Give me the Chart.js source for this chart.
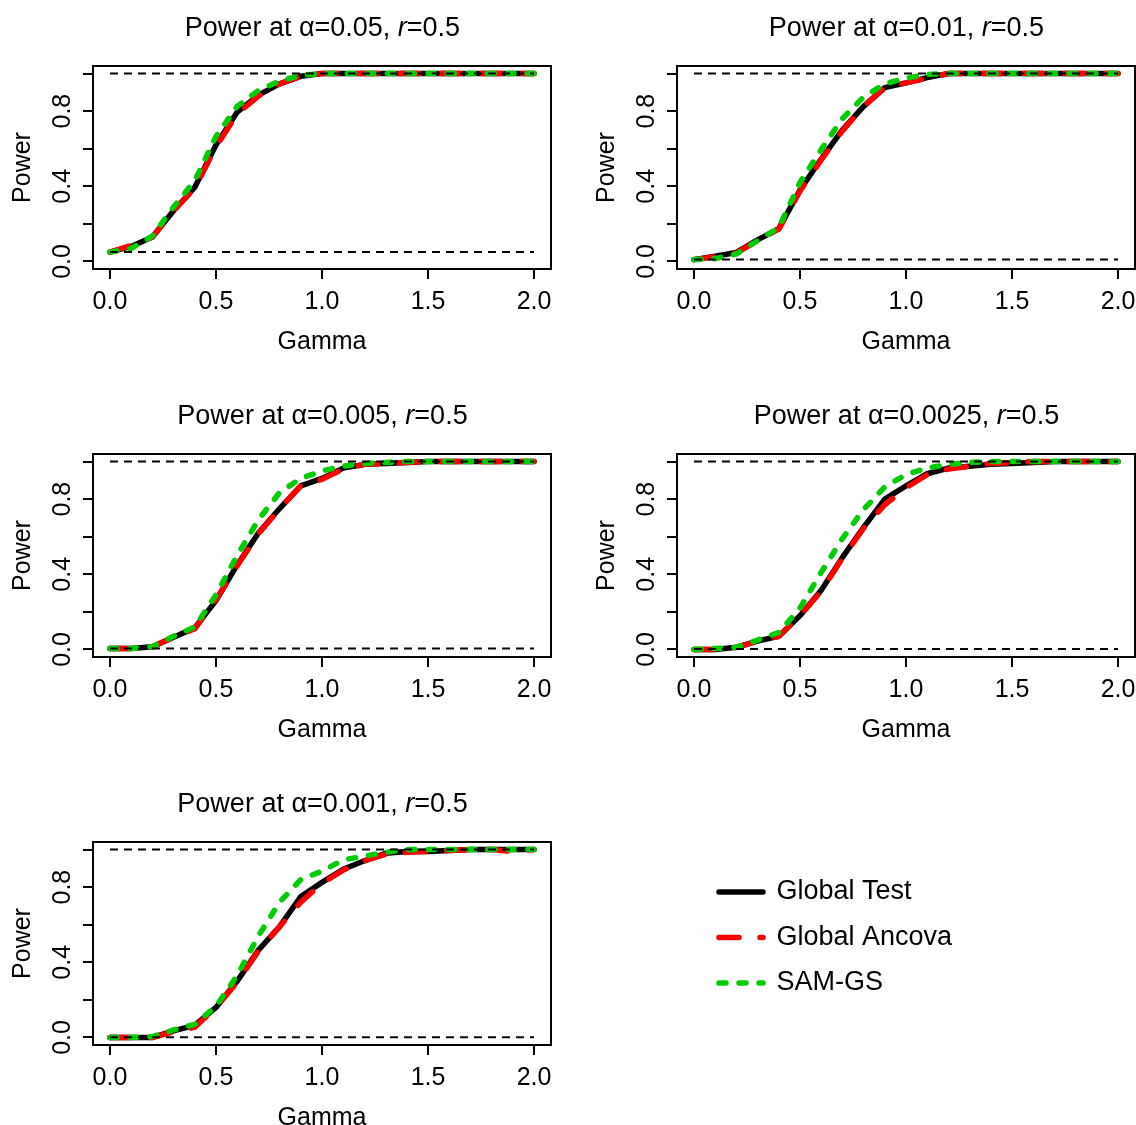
<!DOCTYPE html>
<html>
<head>
<meta charset="utf-8">
<script src="https://cdn.jsdelivr.net/npm/chart.js@4.4.1/dist/chart.umd.min.js"></script>
<style>
    html, body { margin: 0; padding: 0; background: #fff; overflow: hidden; }
    body { width: 1136px; height: 1125px; position: relative; }
    .panel { position: absolute; width: 552px; height: 388px; }
    .panel canvas { position: absolute; left: 0; top: 0; }
    .ttl { position: absolute; left: 93px; width: 459px; top: 12px; text-align: center;
           font: 27px "Liberation Sans", Arial, Helvetica, sans-serif; line-height: 30px;
           color: #000; white-space: nowrap; }
</style>
</head>
<body>
<script>
var gamma = [0, 0.1, 0.2, 0.3, 0.4, 0.5, 0.6, 0.7, 0.8, 0.9, 1.0, 1.1, 1.2, 1.3, 1.4, 1.5, 1.6, 1.7, 1.8, 1.9, 2.0];

var gt05  = [0.05, 0.08, 0.13, 0.27, 0.395, 0.62, 0.795, 0.885, 0.945, 0.985, 1, 1, 1, 1, 1, 1, 1, 1, 1, 1, 1];
var ga05  = [0.05, 0.085, 0.13, 0.27, 0.39, 0.61, 0.785, 0.88, 0.945, 0.985, 1, 1, 1, 1, 1, 1, 1, 1, 1, 1, 1];
var sam05 = [0.05, 0.07, 0.135, 0.29, 0.43, 0.665, 0.825, 0.91, 0.96, 0.99, 1, 1, 1, 1, 1, 1, 1, 1, 1, 1, 1];

var gt01  = [0.01, 0.028, 0.048, 0.115, 0.175, 0.38, 0.545, 0.70, 0.825, 0.925, 0.95, 0.978, 1, 1, 1, 1, 1, 1, 1, 1, 1];
var ga01  = [0.01, 0.025, 0.045, 0.112, 0.172, 0.375, 0.54, 0.695, 0.825, 0.925, 0.95, 0.975, 1, 1, 1, 1, 1, 1, 1, 1, 1];
var sam01 = [0.01, 0.015, 0.04, 0.11, 0.18, 0.42, 0.595, 0.76, 0.875, 0.945, 0.975, 0.995, 1, 1, 1, 1, 1, 1, 1, 1, 1];

var gt005  = [0.005, 0.005, 0.015, 0.065, 0.115, 0.26, 0.45, 0.62, 0.75, 0.87, 0.91, 0.965, 0.985, 0.99, 0.995, 1, 1, 1, 1, 1, 1];
var ga005  = [0.005, 0.005, 0.015, 0.065, 0.11, 0.265, 0.445, 0.615, 0.75, 0.87, 0.905, 0.96, 0.985, 0.99, 0.995, 1, 1, 1, 1, 1, 1];
var sam005 = [0.005, 0.005, 0.015, 0.07, 0.12, 0.29, 0.5, 0.69, 0.835, 0.91, 0.95, 0.975, 0.99, 0.995, 1, 1, 1, 1, 1, 1, 1];

var gt0025  = [0, 0, 0.012, 0.045, 0.07, 0.18, 0.315, 0.49, 0.65, 0.8, 0.87, 0.935, 0.965, 0.975, 0.985, 0.99, 0.995, 1, 1, 1, 1];
var ga0025  = [0, 0, 0.01, 0.045, 0.07, 0.18, 0.31, 0.485, 0.645, 0.77, 0.86, 0.93, 0.96, 0.975, 0.99, 0.995, 1, 1, 1, 1, 1];
var sam0025 = [0, 0.005, 0.012, 0.05, 0.09, 0.22, 0.41, 0.59, 0.745, 0.865, 0.93, 0.965, 0.985, 0.995, 1, 1, 1, 1, 1, 1, 1];

var gt001  = [0, 0, 0, 0.035, 0.065, 0.16, 0.3, 0.465, 0.59, 0.75, 0.825, 0.895, 0.94, 0.98, 0.99, 0.99, 0.995, 1, 1, 1, 1];
var ga001  = [0, 0, 0, 0.03, 0.055, 0.16, 0.295, 0.46, 0.59, 0.72, 0.82, 0.89, 0.94, 0.975, 0.985, 0.99, 0.995, 1, 1, 0.99, 1];
var sam001 = [0, 0, 0.005, 0.04, 0.07, 0.165, 0.33, 0.54, 0.72, 0.84, 0.885, 0.945, 0.965, 0.985, 1, 1, 1, 1, 1, 1, 1];

var alphas      = [0.05, 0.01, 0.005, 0.0025, 0.001];
var alphaLabels = ['0.05', '0.01', '0.005', '0.0025', '0.001'];

var xTicks      = [0, 0.5, 1, 1.5, 2];
var xTickLabels = ['0.0', '0.5', '1.0', '1.5', '2.0'];
var yTicks      = [0, 0.2, 0.4, 0.6, 0.8, 1];
var yTickLabels = ['0.0', '', '0.4', '', '0.8', ''];

var seriesNames  = ['Global Test', 'Global Ancova', 'SAM-GS'];
var seriesColors = ['#000000', '#ff0000', '#00cd00'];
var seriesDash   = [[], [20, 21], [7, 13]];

var panelData = [
    [gt05, ga05, sam05],
    [gt01, ga01, sam01],
    [gt005, ga005, sam005],
    [gt0025, ga0025, sam0025],
    [gt001, ga001, sam001]
];

var FONT = '"Liberation Sans", Arial, Helvetica, sans-serif';
var axisFont = { family: FONT, size: 25 };
var W = 552, H = 388;

function points(ys) {
    return gamma.map(function(g, i) { return { x: g, y: ys[i] }; });
}

function refLine(level) {
    return {
        data: [{ x: gamma[0], y: level }, { x: gamma[gamma.length - 1], y: level }],
        borderColor: '#000', borderWidth: 2, borderDash: [8, 6], pointRadius: 0
    };
}

function series(k, ys) {
    return {
        label: seriesNames[k], data: points(ys),
        borderColor: seriesColors[k], borderWidth: 5.5, borderDash: seriesDash[k],
        borderCapStyle: 'round', borderJoinStyle: 'round', pointRadius: 0
    };
}

// box round the plot region, like R's box()
var frame = {
    id: 'frame',
    afterDatasetsDraw: function(chart) {
        var a = chart.chartArea, c = chart.ctx;
        c.save();
        c.strokeStyle = '#000';
        c.lineWidth = 2;
        c.strokeRect(a.left, a.top, a.right - a.left, a.bottom - a.top);
        c.restore();
    }
};

var tickGrid = { drawOnChartArea: false, drawTicks: true, tickLength: 10, color: '#000', lineWidth: 2 };

panelData.forEach(function(d, i) {
    var col = i % 2, row = Math.floor(i / 2);
    var box = document.createElement('div');
    box.className = 'panel';
    box.style.left = (col * 584) + 'px';
    box.style.top = (row * 388) + 'px';
    var cv = document.createElement('canvas');
    cv.width = W; cv.height = H;
    box.appendChild(cv);
    var t = document.createElement('div');
    t.className = 'ttl';
    t.innerHTML = 'Power at \u03b1=' + alphaLabels[i] + ', <i>r</i>=0.5';
    box.appendChild(t);
    document.body.appendChild(box);

    new Chart(cv, {
        type: 'line',
        data: {
            datasets: [
                refLine(alphas[i]), refLine(1),
                series(2, d[2]), series(1, d[1]), series(0, d[0])
            ]
        },
        options: {
            responsive: false,
            animation: false,
            layout: { padding: { top: 66, right: 1, left: 0, bottom: 0 } },
            plugins: { legend: { display: false }, tooltip: { enabled: false } },
            elements: { line: { tension: 0 } },
            scales: {
                x: {
                    type: 'linear', min: -0.08, max: 2.08,
                    afterBuildTicks: function(s) { s.ticks = xTicks.map(function(v) { return { value: v }; }); },
                    afterFit: function(s) { s.height = H - 269; s.paddingLeft = 0; s.paddingRight = 0; },
                    ticks: { autoSkip: false, maxRotation: 0, padding: 8.5, color: '#000', font: axisFont,
                             callback: function(v, idx) { return xTickLabels[idx]; } },
                    grid: tickGrid,
                    border: { display: false },
                    title: { display: true, text: 'Gamma', color: '#000', font: axisFont, padding: { top: 0, bottom: 30.5 } }
                },
                y: {
                    type: 'linear', min: -0.04, max: 1.04,
                    afterBuildTicks: function(s) { s.ticks = yTicks.map(function(v) { return { value: v }; }); },
                    afterFit: function(s) { s.width = 93; s.paddingTop = 0; s.paddingBottom = 0; },
                    ticks: { autoSkip: false, minRotation: 90, maxRotation: 90, crossAlign: 'center', padding: 2.6,
                             color: '#000', font: axisFont,
                             callback: function(v, idx) { return yTickLabels[idx]; } },
                    grid: tickGrid,
                    border: { display: false },
                    title: { display: true, text: 'Power', color: '#000', font: axisFont, padding: { top: 8, bottom: 0 } }
                }
            }
        },
        plugins: [frame]
    });
});

// legend sits in the empty sixth cell
var lbox = document.createElement('div');
lbox.className = 'panel';
lbox.style.left = '584px';
lbox.style.top = '776px';
lbox.style.width = '700px';
lbox.style.height = '349px';
var lc = document.createElement('canvas');
lc.width = 700; lc.height = 349;
lbox.appendChild(lc);
document.body.appendChild(lbox);

new Chart(lc, {
    type: 'line',
    data: {
        datasets: seriesNames.map(function(n, k) {
            return { label: n, data: [], borderColor: seriesColors[k], borderWidth: 5.5, borderDash: seriesDash[k] };
        })
    },
    options: {
        responsive: false,
        animation: false,
        layout: { padding: { left: 116.5, top: 84 } },
        scales: { x: { display: false }, y: { display: false } },
        plugins: {
            tooltip: { enabled: false },
            legend: {
                position: 'left',
                align: 'start',
                labels: {
                    usePointStyle: true, pointStyleWidth: 44, padding: 18.5, color: '#000',
                    font: { family: FONT, size: 27 },
                    generateLabels: function(ch) {
                        return ch.data.datasets.map(function(ds, k) {
                            return {
                                text: ds.label, datasetIndex: k, hidden: false,
                                strokeStyle: ds.borderColor, fillStyle: ds.borderColor,
                                lineWidth: ds.borderWidth, lineDash: ds.borderDash,
                                lineCap: 'round', pointStyle: 'line'
                            };
                        });
                    }
                }
            }
        }
    }
});
</script>
</body>
</html>
